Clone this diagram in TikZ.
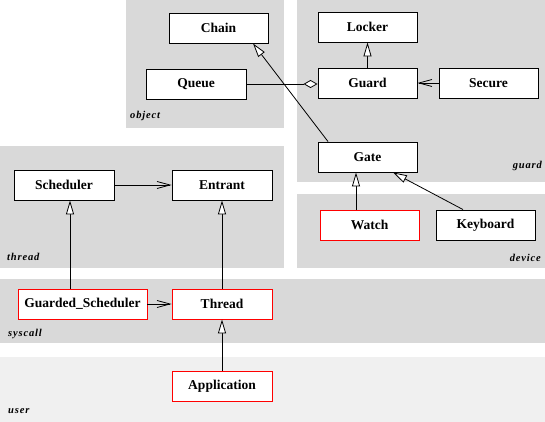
\documentclass[tikz,border=0pt]{standalone}
\usepackage{fontspec}
\setmainfont{Liberation Serif}
\usetikzlibrary{arrows.meta}
\definecolor{zone}{HTML}{D9D9D9}
\definecolor{zonelight}{HTML}{F0F0F0}
\definecolor{boxred}{HTML}{FF0000}
\tikzset{
  cls/.style={draw=black, fill=white, line width=0.9pt, minimum width=99pt, minimum height=30pt, inner sep=0pt, font=\fontsize{13.5}{15}\selectfont\bfseries},
  redcls/.style={cls, draw=boxred},
  zonelabel/.style={font=\fontsize{10.5}{12}\selectfont\bfseries\itshape\addfontfeature{LetterSpace=8}, inner sep=0pt},
  inh/.style={line width=0.8pt, -{Triangle[fill=white, length=14pt, width=8pt]}},
  nav/.style={line width=0.8pt, -{Straight Barb[length=13pt, width=7pt]}},
  agg/.style={line width=0.8pt, -{Diamond[fill=white, length=14pt, width=8pt]}}
}
\begin{document}
\begin{tikzpicture}[x=1pt, y=-1pt]
\useasboundingbox (0,0) rectangle (545,422);
% zones
\fill[zone] (126,0) rectangle (284,128);
\fill[zone] (297,0) rectangle (545,182);
\fill[zone] (297,194) rectangle (545,268);
\fill[zone] (0,146) rectangle (284,268);
\fill[zone] (0,279) rectangle (545,343);
\fill[zonelight] (0,357) rectangle (545,422);
% zone labels
\node[zonelabel, anchor=base west] (lobject) at (130,119) {object};
\node[zonelabel, anchor=base east] (lguard) at (542,168) {guard};
\node[zonelabel, anchor=base east] (ldevice) at (541,261) {device};
\node[zonelabel, anchor=base west] (lthread) at (7,260) {thread};
\node[zonelabel, anchor=base west] (lsyscall) at (8,336) {syscall};
\node[zonelabel, anchor=base west] (luser) at (8,413) {user};
% classes
\node[cls] (chain) at (218.5,28) {Chain};
\node[cls, minimum width=100pt] (queue) at (196,84) {Queue};
\node[cls] (locker) at (367.5,27) {Locker};
\node[cls] (guard) at (367.5,83) {Guard};
\node[cls] (secure) at (488.5,83) {Secure};
\node[cls] (gate) at (367.5,157) {Gate};
\node[redcls] (watch) at (369.5,225) {Watch};
\node[cls] (keyboard) at (485.5,225) {Keyboard};
\node[cls, minimum width=100pt] (scheduler) at (64,185) {Scheduler};
\node[cls, minimum width=100pt] (entrant) at (222,185) {Entrant};
\node[redcls, minimum width=129pt] (gsched) at (82.5,304) {Guarded\_Scheduler};
\node[redcls, minimum width=100pt] (thread) at (222,304) {Thread};
\node[redcls, minimum width=100pt] (app) at (222,386) {Application};
% connectors
\draw[agg] (queue.east) -- (queue.east -| guard.west);
\draw[nav] (secure.west) -- (guard.east);
\draw[inh] (guard.north) -- (locker.south);
\draw[inh] ([xshift=-39.5pt]gate.north) -- ([xshift=34.5pt]chain.south);
\draw[inh] ([xshift=-13.5pt]watch.north) -- ([xshift=-11.5pt]gate.south);
\draw[inh] ([xshift=-22.5pt]keyboard.north) -- ([xshift=25.5pt]gate.south);
\draw[nav] (scheduler.east) -- (entrant.west);
\draw[inh] ([xshift=-12.5pt]gsched.north) -- ([xshift=6pt]scheduler.south);
\draw[inh] (thread.north) -- (entrant.south);
\draw[nav] (gsched.east) -- (thread.west);
\draw[inh] (app.north) -- (thread.south);
\end{tikzpicture}
\end{document}
